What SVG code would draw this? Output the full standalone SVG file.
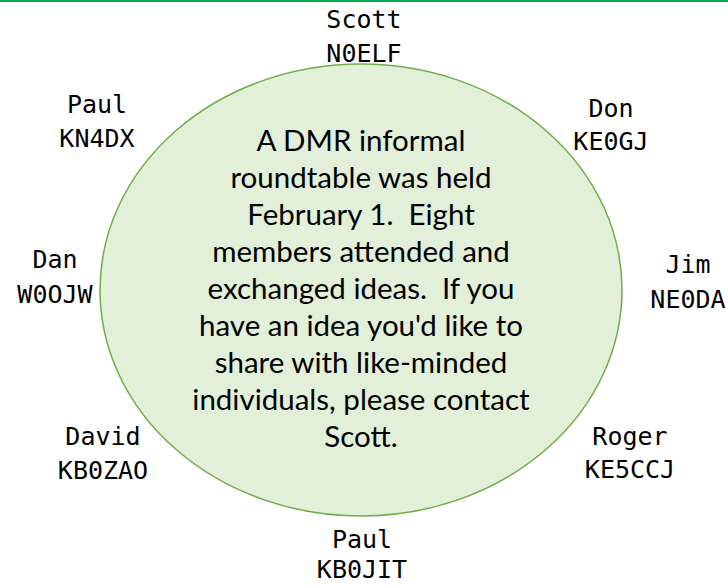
<svg xmlns="http://www.w3.org/2000/svg" width="728" height="586" viewBox="0 0 728 586">
<style>
.lbl{font-family:"DejaVu Sans Mono","Liberation Mono",monospace;font-size:25px;fill:#000;text-anchor:middle}
.body{font-family:Lato,"Liberation Sans",sans-serif;font-size:29.5px;fill:#000;text-anchor:middle;white-space:pre}
</style>
<rect x="0" y="0" width="728" height="586" fill="#fff"/>
<line x1="0" y1="1" x2="728" y2="1" stroke="#00b050" stroke-width="2"/>
<g id="center">
<ellipse cx="361" cy="290" rx="261" ry="226" fill="#e2efd9" stroke="#70ad47" stroke-width="1.5"/>
<text class="body" x="361" y="151">A DMR informal</text>
<text class="body" x="361" y="188">roundtable was held</text>
<text class="body" x="361" y="225" xml:space="preserve">February 1.  Eight</text>
<text class="body" x="361" y="262">members attended and</text>
<text class="body" x="361" y="299" xml:space="preserve">exchanged ideas.  If you</text>
<text class="body" x="361" y="336">have an idea you'd like to</text>
<text class="body" x="361" y="373">share with like-minded</text>
<text class="body" x="361" y="410">individuals, please contact</text>
<text class="body" x="361" y="447">Scott.</text>
</g>
<g id="scott"><text class="lbl" x="364" y="28">Scott</text><text class="lbl" x="364" y="62">N0ELF</text></g>
<g id="don"><text class="lbl" x="611" y="117">Don</text><text class="lbl" x="611" y="150">KE0GJ</text></g>
<g id="jim"><text class="lbl" x="688" y="273">Jim</text><text class="lbl" x="688" y="308">NE0DA</text></g>
<g id="roger"><text class="lbl" x="630" y="445">Roger</text><text class="lbl" x="630" y="478">KE5CCJ</text></g>
<g id="paul2"><text class="lbl" x="362" y="548">Paul</text><text class="lbl" x="362" y="578">KB0JIT</text></g>
<g id="david"><text class="lbl" x="103" y="445">David</text><text class="lbl" x="103" y="479">KB0ZAO</text></g>
<g id="dan"><text class="lbl" x="55" y="268">Dan</text><text class="lbl" x="55" y="303">W0OJW</text></g>
<g id="paul1"><text class="lbl" x="97" y="113">Paul</text><text class="lbl" x="97" y="147">KN4DX</text></g>
<g id="connectors"></g>
</svg>
